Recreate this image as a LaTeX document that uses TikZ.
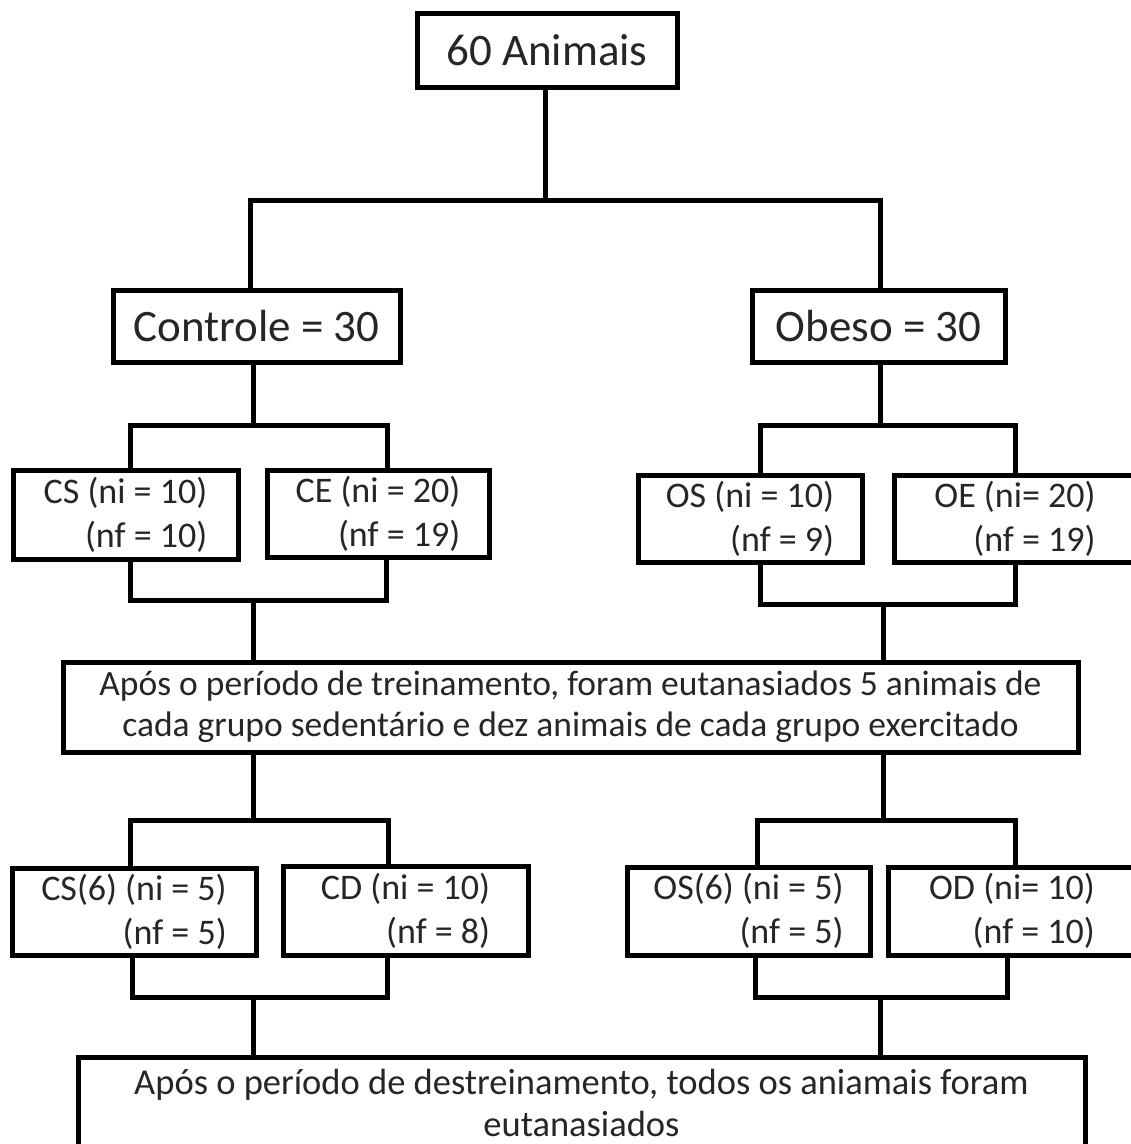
\documentclass[tikz,border=0pt]{standalone}
\usepackage{fontspec}
\setmainfont{Carlito}
\begin{document}
\begin{tikzpicture}[x=1pt,y=-1pt,
  box/.style={draw, line width=5pt, inner sep=0pt, minimum width=#1, text=black!85},
  big/.style={font=\fontsize{45}{54}\selectfont},
  small/.style={font=\fontsize{36}{44}\selectfont, align=right},
  mid/.style={font=\fontsize{35.5}{41}\selectfont, align=center},
  midb/.style={font=\fontsize{36.5}{42}\selectfont, align=center},
  conn/.style={line width=5pt, line cap=rect, line join=miter}]
\useasboundingbox (0,0) rectangle (1131,1144);
\clip (0,0) rectangle (1131,1144);
\fill[white] (0,0) rectangle (1131,1144);
% boxes
\node[box=260pt, minimum height=74pt, big] (top) at (547,50) {60 Animais};
\node[box=287pt, minimum height=72pt, big] (ctrl) at (256.5,326) {Controle = 30};
\node[box=253pt, minimum height=72pt, big] (obeso) at (878.5,326) {Obeso = 30};
\node[box=225pt, minimum height=89pt, small] (cs) at (125.5,514.5) {CS (ni = 10)\\(nf = 10)};
\node[box=222pt, minimum height=87pt, small] (ce) at (378,513.5) {CE (ni = 20)\\(nf = 19)};
\node[box=224pt, minimum height=87pt, small] (os) at (750,518.5) {OS (ni = 10)\\(nf = 9)};
\node[box=242pt, minimum height=87pt, small] (oe) at (1015,518.5) {OE (ni= 20)\\(nf = 19)};
\node[box=1015pt, minimum height=90pt, mid] (midbox) at (570.5,707) {Após o período de treinamento, foram eutanasiados 5 animais de\\cada grupo sedentário e dez animais de cada grupo exercitado};
\node[box=244pt, minimum height=87pt, small] (cs6) at (134,911.5) {CS(6) (ni = 5)\\(nf = 5)};
\node[box=245pt, minimum height=89pt, small] (cd) at (405.5,910.5) {CD (ni = 10)\\(nf = 8)};
\node[box=243pt, minimum height=88pt, small] (os6) at (748.5,911) {OS(6) (ni = 5)\\(nf = 5)};
\node[box=248pt, minimum height=88pt, small] (od) at (1012,911) {OD (ni= 10)\\(nf = 10)};
\node[box=1007pt, minimum height=92pt, midb] (bot) at (581.5,1103) {Após o período de destreinamento, todos os aniamais foram\\eutanasiados};
% junction coordinates
\coordinate (j0) at (545,200);
\coordinate (j0l) at (250,200);
\coordinate (j0r) at (880,200);
\coordinate (jcl) at (130,425);
\coordinate (jcr) at (387,425);
\coordinate (jol) at (760,425);
\coordinate (jor) at (1015,425);
\coordinate (kcl) at (130,600);
\coordinate (kcr) at (386,600);
\coordinate (kc) at (253,600);
\coordinate (kol) at (760,604);
\coordinate (kor) at (1015,604);
\coordinate (ko) at (883,604);
\coordinate (lcl) at (130,820);
\coordinate (lcr) at (388,820);
\coordinate (lc) at (253,820);
\coordinate (lol) at (757,820);
\coordinate (lor) at (1015,820);
\coordinate (lo) at (883,820);
\coordinate (mcl) at (132,997);
\coordinate (mcr) at (387,997);
\coordinate (mc) at (253,997);
\coordinate (mol) at (755,997);
\coordinate (mor) at (1007,997);
\coordinate (mo) at (880,997);
% connectors
\draw[conn] (top.south -| j0) -- (j0);
\draw[conn] (j0l |- ctrl.north) -- (j0l) -- (j0r) -- (j0r |- obeso.north);
\draw[conn] (ctrl.south -| 253,0) -- (253,425);
\draw[conn] (jcl |- cs.north) -- (jcl) -- (jcr) -- (jcr |- ce.north);
\draw[conn] (obeso.south -| 880,0) -- (880,425);
\draw[conn] (jol |- os.north) -- (jol) -- (jor) -- (jor |- oe.north);
\draw[conn] (kcl |- cs.south) -- (kcl) -- (kcr) -- (kcr |- ce.south);
\draw[conn] (kc) -- (kc |- midbox.north);
\draw[conn] (kol |- os.south) -- (kol) -- (kor) -- (kor |- oe.south);
\draw[conn] (ko) -- (ko |- midbox.north);
\draw[conn] (lc |- midbox.south) -- (lc);
\draw[conn] (lcl |- cs6.north) -- (lcl) -- (lcr) -- (lcr |- cd.north);
\draw[conn] (lo |- midbox.south) -- (lo);
\draw[conn] (lol |- os6.north) -- (lol) -- (lor) -- (lor |- od.north);
\draw[conn] (mcl |- cs6.south) -- (mcl) -- (mcr) -- (mcr |- cd.south);
\draw[conn] (mc) -- (mc |- bot.north);
\draw[conn] (mol |- os6.south) -- (mol) -- (mor) -- (mor |- od.south);
\draw[conn] (mo) -- (mo |- bot.north);
\end{tikzpicture}
\end{document}
